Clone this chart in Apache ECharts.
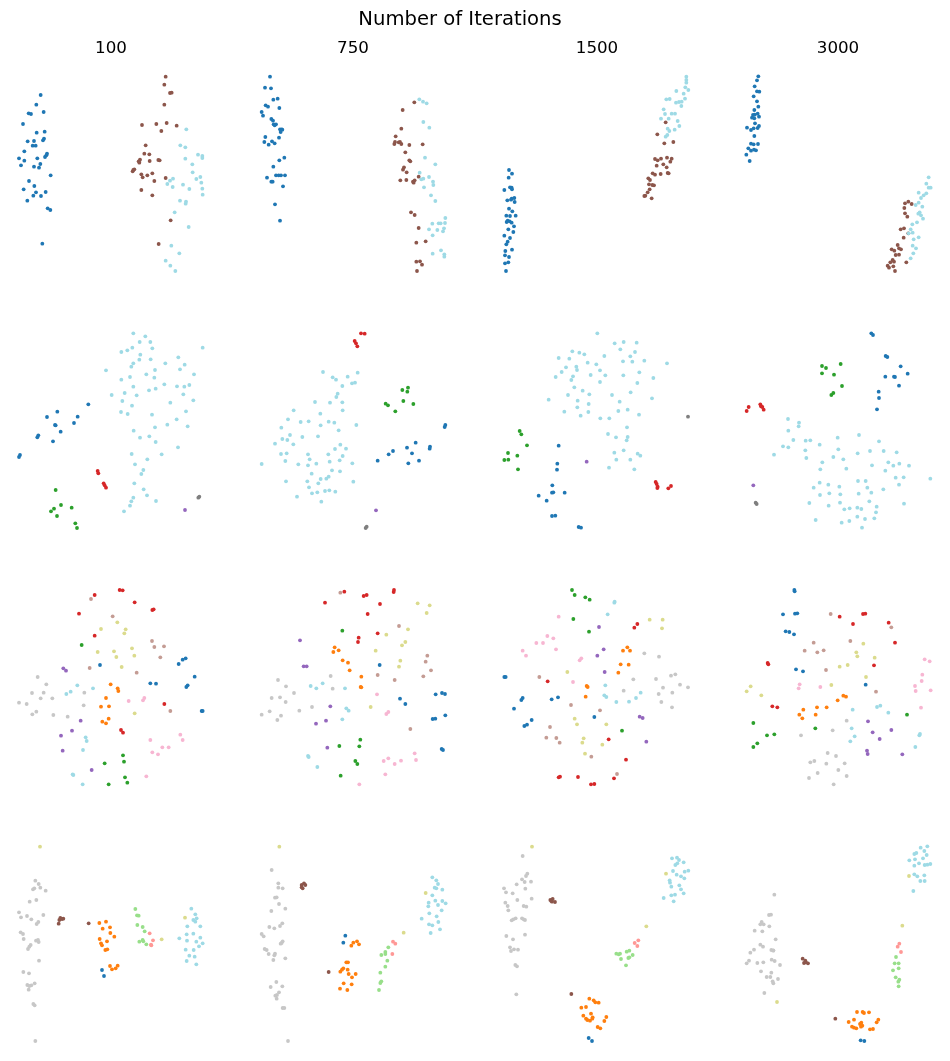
<!DOCTYPE html>
<html><head><meta charset="utf-8">
<script src="https://cdn.jsdelivr.net/npm/echarts@6/dist/echarts.min.js"></script>
<style>html,body{margin:0;padding:0;background:#fff}#c{width:950px;height:1061px}</style>
</head><body><div id="c"></div>
<script>
// Values are embedding coordinates (units: 1/3 px of each row's crop)
const colTitles = ['100','750','1500','3000'];
const mainTitle = 'Number of Iterations';

// ---------- Row 1 ----------
const r1c1_blue=[[122,285],[109,314],[131,336],[86,340],[93,342],[69,372],[110,398],[134,395],[83,424],[102,423],[132,416],[129,421],[98,437],[107,437],[73,454],[141,461],[139,466],[135,471],[57,475],[73,482],[112,475],[63,496],[102,500],[117,503],[121,492],[152,526],[87,543],[103,558],[71,568],[108,577],[137,576],[100,587],[123,588],[82,602],[143,625],[151,630],[127,731]];
const r1c1_brown=[[497,230],[493,254],[510,279],[515,278],[493,314],[426,375],[469,372],[500,369],[530,377],[484,393],[437,436],[433,461],[448,463],[420,479],[416,484],[418,488],[449,483],[475,480],[479,481],[400,510],[398,514],[403,508],[424,523],[428,532],[442,526],[457,520],[463,543],[497,534],[424,570],[457,586],[512,661],[476,732]];
const r1c1_cyan=[[559,388],[541,436],[556,442],[594,464],[607,468],[607,474],[556,476],[577,493],[578,517],[601,531],[589,537],[604,548],[519,536],[510,542],[502,552],[518,561],[549,554],[568,567],[607,566],[608,584],[540,602],[558,605],[557,611],[524,637],[566,681],[514,737],[538,760],[497,782],[511,797],[526,813]];
const r1c2_blue=[[810,230],[795,263],[813,265],[820,299],[833,296],[797,316],[804,320],[838,324],[785,336],[789,347],[814,357],[819,362],[821,373],[828,373],[824,376],[840,388],[845,388],[847,389],[842,396],[837,413],[796,411],[793,426],[806,434],[816,424],[824,430],[853,473],[838,481],[820,500],[828,526],[836,526],[843,526],[855,526],[801,533],[814,545],[818,545],[849,559],[825,613],[840,662]];
const r1c2_brown=[[1208,330],[1243,307],[1204,386],[1187,409],[1185,426],[1183,432],[1196,427],[1200,426],[1204,432],[1228,435],[1268,433],[1216,457],[1228,481],[1231,484],[1212,502],[1209,509],[1220,517],[1256,530],[1201,541],[1219,540],[1239,545],[1241,548],[1244,541],[1233,637],[1244,645],[1256,684],[1277,724],[1249,728],[1249,785],[1260,784],[1266,794],[1251,813]];
const r1c2_cyan=[[1258,298],[1269,305],[1280,310],[1270,366],[1288,383],[1275,473],[1306,493],[1259,518],[1287,531],[1264,538],[1270,536],[1299,545],[1300,555],[1272,562],[1293,586],[1306,603],[1336,654],[1297,671],[1316,670],[1322,670],[1335,669],[1287,688],[1312,690],[1332,685],[1329,694],[1298,706],[1323,751],[1298,761],[1333,763],[1333,770]];
const r1c3_blue=[[102,510],[111,521],[101,533],[105,562],[110,563],[111,568],[88,570],[118,594],[110,596],[108,599],[97,601],[119,606],[102,626],[112,634],[94,647],[105,648],[122,647],[98,662],[104,664],[95,666],[110,668],[117,679],[100,688],[115,696],[88,707],[105,714],[98,725],[94,733],[91,753],[111,749],[90,766],[102,771],[90,790],[100,787],[93,813]];
const r1c3_brown=[[572,367],[547,403],[568,430],[595,426],[540,477],[548,481],[558,476],[545,497],[565,493],[576,473],[590,476],[586,485],[575,502],[533,520],[540,524],[557,522],[578,519],[581,520],[520,535],[525,540],[532,555],[522,553],[537,556],[524,568],[518,577],[508,588],[511,587],[530,595]];
const r1c3_cyan=[[634,230],[634,240],[634,248],[631,262],[640,270],[604,273],[626,281],[574,298],[584,297],[630,296],[603,308],[612,306],[620,305],[619,318],[566,328],[570,342],[590,341],[600,341],[558,356],[581,356],[608,363],[613,378],[578,386],[583,393],[599,389],[572,410],[577,405]];
const r1c4_blue=[[850,229],[846,241],[839,259],[846,274],[853,275],[836,289],[846,304],[850,320],[838,330],[834,345],[839,344],[848,341],[831,353],[838,355],[852,350],[840,370],[816,383],[828,390],[836,385],[848,384],[852,378],[838,408],[828,431],[836,433],[849,432],[820,445],[828,452],[837,449],[843,451],[814,464],[824,483]];
const r1c4_brown=[[1290,610],[1300,605],[1310,612],[1288,624],[1290,640],[1297,650],[1277,688],[1287,685],[1300,700],[1286,713],[1250,748],[1258,752],[1268,735],[1272,745],[1278,748],[1262,765],[1272,764],[1253,780],[1246,787],[1257,785],[1238,797],[1242,803],[1255,799],[1260,813],[1294,787]];
const r1c4_cyan=[[1361,532],[1354,551],[1361,563],[1367,563],[1331,578],[1346,586],[1354,580],[1338,594],[1331,608],[1322,615],[1342,620],[1334,637],[1330,641],[1338,646],[1344,656],[1326,667],[1312,673],[1307,688],[1313,698],[1301,700],[1331,712],[1316,718],[1313,737],[1323,745],[1315,760],[1307,775]];

// ---------- Row 2 ----------
const r2c1_cyan=[[400,70],[436,79],[419,96],[451,96],[457,115],[364,126],[382,121],[397,113],[421,134],[418,149],[452,148],[400,160],[394,170],[496,160],[535,142],[554,164],[540,178],[318,181],[465,180],[439,193],[582,193],[364,209],[390,201],[463,203],[493,223],[531,229],[553,230],[568,225],[400,230],[447,241],[467,236],[335,255],[374,249],[410,256],[550,253],[367,273],[396,287],[511,278],[580,271],[363,306],[383,312],[456,314],[558,304],[530,328],[502,344],[465,352],[563,349],[401,362],[420,383],[448,379],[467,396],[534,412],[395,432],[485,433],[442,448],[405,463],[430,480],[424,492],[403,520],[431,538],[441,556],[400,563],[394,574],[468,573],[390,587],[372,604],[608,113]];
const r2c1_blue=[[265,283],[172,305],[141,321],[233,320],[165,345],[167,346],[222,339],[182,365],[115,376],[112,382],[159,394],[60,435],[57,441]];
const r2c1_green=[[167,540],[183,585],[162,596],[153,604],[215,593],[171,618],[226,640],[231,654]];
const r2c1_red=[[293,483],[295,490],[311,520],[314,526],[318,533]];
const r2c1_gray=[[595,563],[598,560]];
const r2c1_purple=[[555,600]];
const r2c2_cyan=[[969,186],[998,202],[1008,209],[1043,200],[1073,188],[1056,220],[1065,218],[1027,228],[1013,251],[1009,261],[945,276],[990,278],[1027,277],[881,301],[961,311],[1028,301],[864,328],[902,336],[926,334],[962,346],[986,335],[1003,338],[844,353],[1069,345],[1016,361],[870,375],[847,387],[862,390],[907,381],[954,379],[825,401],[880,403],[1021,404],[1005,417],[1038,416],[843,432],[860,430],[924,433],[985,433],[1028,438],[785,462],[856,453],[929,448],[895,463],[924,466],[949,461],[989,455],[1019,451],[1057,460],[996,481],[1020,484],[935,491],[986,500],[962,507],[979,506],[858,514],[922,514],[955,520],[1060,515],[927,532],[975,543],[988,541],[1006,545],[952,547],[936,550],[891,560],[964,575]];
const r2c2_red=[[1083,70],[1094,71],[1064,93],[1068,100],[1072,109]];
const r2c2_green=[[1207,240],[1224,233],[1222,245],[1210,273],[1240,282],[1157,281],[1164,286],[1186,304]];
const r2c2_blue=[[1336,345],[1334,351],[1290,410],[1289,416],[1247,398],[1221,413],[1179,423],[1166,433],[1236,430],[1133,452],[1225,460],[1257,452]];
const r2c2_purple=[[1128,601]];
const r2c2_gray=[[1100,650],[1097,654]];
const r2c3_cyan=[[367,70],[419,100],[446,96],[485,98],[436,118],[480,126],[292,124],[313,128],[328,133],[251,144],[283,146],[388,138],[466,139],[444,154],[472,155],[508,152],[338,158],[364,163],[273,172],[304,170],[306,180],[375,181],[260,186],[242,201],[294,199],[289,210],[347,195],[391,196],[445,196],[493,187],[535,204],[375,216],[487,219],[298,232],[323,242],[279,255],[343,253],[411,255],[467,247],[221,269],[308,272],[434,275],[531,265],[576,160],[307,292],[341,282],[268,305],[340,306],[430,303],[458,299],[317,317],[376,325],[403,325],[492,314],[456,352],[399,372],[423,382],[458,381],[455,391],[418,428],[446,421],[488,431],[496,437],[424,449],[466,449],[402,473],[478,478]];
const r2c3_green=[[134,363],[139,373],[156,406],[99,429],[127,437],[88,450],[100,449],[129,478]];
const r2c3_blue=[[251,407],[247,461],[246,479],[232,526],[231,548],[235,547],[269,548],[191,557],[215,572],[231,618],[241,617],[311,651],[318,653]];
const r2c3_purple=[[335,455]];
const r2c3_gray=[[639,320]];
const r2c3_red=[[542,516],[545,522],[548,530],[547,534],[580,535],[588,528]];
const r2c4_blue=[[1189,70],[1194,75],[1232,138],[1237,141],[1277,169],[1298,191],[1231,200],[1257,200],[1260,201],[1272,227],[1211,245],[1212,264],[1206,298]];
const r2c4_green=[[1041,168],[1053,174],[1097,162],[1041,190],[1077,194],[1101,228],[1075,249],[1069,255]];
const r2c4_red=[[821,291],[815,303],[856,283],[858,289],[862,291],[866,299]];
const r2c4_purple=[[835,526]];
const r2c4_gray=[[842,578],[845,582]];
const r2c4_cyan=[[939,327],[972,338],[971,349],[940,362],[955,390],[992,392],[1006,391],[924,409],[940,412],[897,434],[991,421],[994,444],[1034,404],[1088,383],[1152,375],[1212,394],[1090,418],[1075,441],[1105,448],[1042,457],[1036,478],[1114,476],[1148,430],[1185,423],[1226,423],[1265,427],[1191,466],[1240,457],[1255,467],[1273,461],[1302,467],[1231,482],[1262,503],[1286,502],[1366,506],[1034,518],[1060,524],[1093,530],[1016,533],[1149,513],[1172,513],[1177,533],[1272,524],[1225,538],[1035,555],[1063,550],[1096,553],[1151,551],[1189,548],[1003,579],[1061,587],[1095,578],[1183,574],[1108,598],[1124,595],[1147,593],[1159,597],[1205,590],[1203,607],[1287,581],[1022,630],[1100,638],[1123,633],[1147,620],[1170,627],[1198,625],[1161,653]];

// ---------- Row 3 ----------
const r3c1_red=[[284,75],[359,60],[368,61],[404,97],[237,131],[457,120],[461,118],[284,197],[493,402],[363,480],[369,488]];
const r3c1_tan=[[273,87],[338,139],[456,213],[463,231],[492,229],[481,262],[269,294],[410,308],[511,423]];
const r3c1_olive=[[352,157],[303,177],[377,178],[373,190],[293,246],[342,244],[396,235],[349,261],[403,257],[365,291],[404,430]];
const r3c1_green=[[245,225],[369,556],[372,575],[314,580],[375,622],[382,638],[326,643]];
const r3c1_blue=[[300,285],[536,282],[548,269],[557,265],[584,320],[451,340],[468,341],[563,346],[559,351],[605,423],[608,423]];
const r3c1_purple=[[190,295],[198,302],[242,452],[216,482],[183,497],[188,542],[275,600]];
const r3c1_gray=[[113,321],[139,343],[96,369],[131,368],[122,385],[157,385],[57,398],[80,402],[109,425],[97,433],[160,435],[203,440],[253,368],[251,406]];
const r3c1_cyan=[[232,346],[212,365],[199,372],[279,355],[257,502],[260,513],[249,540],[218,613],[220,615],[248,643]];
const r3c1_orange=[[332,343],[353,355],[355,363],[318,384],[303,410],[327,409],[326,446],[307,455],[318,460]];
const r3c1_pink=[[386,393],[429,391],[433,384],[451,510],[541,494],[548,510],[457,547],[474,553],[487,532],[506,532],[439,619]];
const r3c2_red=[[1033,65],[1091,78],[1100,75],[1182,60],[1181,66],[975,98],[1140,102],[1103,132],[1133,190],[1076,203],[1074,216]];
const r3c2_tan=[[1021,68],[1197,168],[1282,257],[1277,275],[1293,301],[1270,319],[1133,315],[1184,330],[1231,477]];
const r3c2_olive=[[1253,100],[1289,106],[1280,129],[1224,178],[1159,194],[1216,216],[1206,226],[1127,242],[1201,272],[1197,290],[1112,411]];
const r3c2_green=[[1027,182],[1081,509],[1078,529],[1018,528],[1066,573],[1072,582],[1022,617]];
const r3c2_purple=[[900,211],[911,289],[920,289],[991,409],[948,461],[978,452],[982,533]];
const r3c2_orange=[[1004,232],[1000,246],[1016,241],[1028,271],[1044,278],[1049,301],[1084,320],[1082,351],[1084,352]];
const r3c2_blue=[[1139,285],[1200,386],[1216,402],[1307,373],[1326,369],[1335,372],[1336,436],[1298,447],[1306,446],[1325,537],[1329,540]];
const r3c2_gray=[[834,330],[858,349],[882,369],[815,384],[840,382],[857,396],[785,434],[809,424],[843,437],[832,450],[898,422],[936,411],[992,318],[998,356]];
const r3c2_cyan=[[932,348],[949,355],[968,340],[1035,355],[1039,415],[1046,422],[1027,448],[924,558],[926,561],[952,591]];
const r3c2_pink=[[1131,373],[1159,432],[1165,426],[1244,550],[1248,570],[1151,573],[1165,565],[1184,582],[1203,572],[1156,613],[1078,643]];
const r3c3_green=[[291,60],[299,75],[331,82],[344,89],[295,147],[342,185],[441,482]];
const r3c3_cyan=[[419,95],[418,98],[398,133],[391,346],[388,376],[394,381],[424,396],[462,395],[483,384],[497,368]];
const r3c3_pink=[[251,140],[217,198],[235,205],[184,219],[204,219],[143,242],[153,257],[243,238],[314,271],[319,265],[294,336]];
const r3c3_purple=[[372,171],[386,238],[367,257],[389,306],[494,440],[503,444],[514,515]];
const r3c3_red=[[478,173],[487,162],[218,334],[401,508],[453,569],[251,622],[255,620],[309,621],[348,643],[358,642],[417,625]];
const r3c3_olive=[[524,149],[563,149],[561,175],[277,306],[299,446],[306,463],[394,463],[326,505],[322,518],[382,524],[330,551]];
const r3c3_orange=[[444,242],[457,232],[465,242],[437,283],[461,284],[430,308],[335,348],[338,351],[332,380]];
const r3c3_gray=[[508,250],[552,260],[475,328],[446,362],[543,327],[588,317],[601,313],[564,353],[615,344],[639,352],[551,372],[592,368],[559,396],[591,412]];
const r3c3_blue=[[88,321],[92,321],[143,384],[139,390],[117,416],[230,388],[249,382],[170,450],[156,464],[148,468],[358,441]];
const r3c3_tan=[[193,321],[288,405],[375,421],[225,471],[214,503],[244,504],[254,518],[349,560],[426,612]];
const r3c4_blue=[[958,60],[959,64],[924,133],[960,131],[967,130],[932,184],[943,186],[957,193],[963,298],[984,304],[1172,344]];
const r3c4_tan=[[1067,132],[1016,218],[989,242],[1027,247],[1046,241],[1126,213],[1053,300],[1203,365],[1249,172]];
const r3c4_red=[[1094,140],[1134,162],[1164,132],[1171,131],[1241,158],[1260,218],[878,279],[880,283],[892,409],[907,412],[1197,286]];
const r3c4_olive=[[1165,221],[1144,247],[1147,259],[1199,263],[1094,290],[1118,285],[1173,321],[1069,345],[827,349],[815,364],[859,376]];
const r3c4_pink=[[1349,268],[1364,274],[1342,314],[1340,333],[1320,348],[1322,363],[1367,361],[1338,413],[974,343],[971,355],[1036,351]];
const r3c4_orange=[[1105,377],[1113,380],[1088,391],[985,419],[1026,412],[1055,412],[973,434],[982,445],[1022,434]];
const r3c4_cyan=[[1206,411],[1216,407],[1240,428],[1133,419],[1130,475],[1139,499],[1126,514],[1335,492],[1333,496],[1321,531]];
const r3c4_green=[[1296,434],[1021,475],[835,459],[876,496],[898,493],[847,520],[835,531]];
const r3c4_purple=[[1179,454],[1193,487],[1214,507],[1249,480],[1176,542],[1178,552],[1282,553]];
const r3c4_gray=[[978,496],[1073,481],[1115,452],[1058,549],[1083,558],[1006,577],[1018,573],[1054,581],[1109,580],[1090,600],[1028,609],[1002,624],[1115,618],[1076,643]];

// ---------- Row 4 ----------
const r4c1_olive=[[120,50],[555,263],[485,328]];
const r4c1_gray=[[106,152],[116,162],[121,173],[99,178],[103,175],[137,182],[89,215],[109,210],[57,247],[63,262],[81,258],[94,268],[130,255],[115,276],[110,282],[62,307],[69,312],[71,327],[108,332],[114,330],[116,336],[92,345],[88,350],[84,357],[117,392],[70,426],[87,430],[82,465],[88,468],[94,466],[104,460],[86,479],[100,522],[104,526],[106,633]];
const r4c1_brown=[[181,264],[186,267],[190,266],[178,270],[176,281],[266,280]];
const r4c1_orange=[[298,279],[318,275],[330,292],[308,296],[331,309],[343,320],[299,327],[321,334],[303,340],[306,346],[316,360],[322,358],[330,408],[336,418],[347,415],[353,407]];
const r4c1_blue=[[306,420],[312,438]];
const r4c1_lgreen=[[406,237],[411,256],[416,257],[412,285],[428,291],[434,304],[418,335],[428,330],[430,334],[439,343]];
const r4c1_lred=[[449,310],[459,331],[454,346],[453,344]];
const r4c1_cyan=[[574,236],[586,253],[590,265],[580,270],[586,275],[562,289],[601,289],[560,313],[580,311],[538,325],[561,332],[601,323],[589,335],[608,340],[597,349],[557,359],[581,360],[568,377],[584,380],[560,393],[589,403]];
const r4c2_olive=[[838,50],[1277,189],[1211,308]];
const r4c2_gray=[[815,120],[835,160],[848,175],[835,173],[825,203],[830,202],[837,222],[814,243],[856,236],[847,280],[808,291],[823,295],[840,288],[785,312],[791,319],[848,334],[845,339],[842,341],[794,357],[800,360],[806,372],[825,371],[823,376],[856,385],[820,390],[829,456],[812,471],[847,469],[837,487],[831,495],[826,497],[830,506],[848,534],[853,534],[864,633]];
const r4c2_brown=[[905,165],[912,160],[916,165],[905,172],[908,175],[986,426]];
const r4c2_blue=[[1036,317],[1030,338]];
const r4c2_orange=[[1071,334],[1060,338],[1077,343],[1054,347],[1039,397],[1044,397],[1030,415],[1026,419],[1021,425],[1043,419],[1046,432],[1067,432],[1056,442],[1031,460],[1055,463],[1020,476],[1042,480]];
const r4c2_lred=[[1179,335],[1186,341],[1177,372]];
const r4c2_lgreen=[[1165,352],[1156,366],[1156,372],[1144,375],[1162,392],[1156,410],[1141,428],[1144,454],[1141,459],[1137,480]];
const r4c2_cyan=[[1297,142],[1309,151],[1314,162],[1304,173],[1309,175],[1327,179],[1297,196],[1306,212],[1286,218],[1285,229],[1327,213],[1337,220],[1314,225],[1325,241],[1288,250],[1310,259],[1265,266],[1315,276],[1287,283],[1297,286],[1320,298],[1292,309]];
const r4c3_olive=[[171,50],[573,131],[514,289]];
const r4c3_gray=[[143,78],[157,131],[153,138],[141,148],[149,156],[168,155],[125,163],[151,176],[87,175],[93,187],[113,190],[127,210],[170,206],[91,218],[98,228],[100,241],[146,228],[154,230],[122,265],[115,268],[110,271],[141,265],[146,268],[150,270],[94,318],[114,328],[150,314],[105,352],[108,363],[117,358],[129,359],[121,405],[126,409],[124,493]];
const r4c3_brown=[[226,210],[233,207],[231,215],[240,216],[229,213],[289,492]];
const r4c3_cyan=[[591,85],[606,83],[612,90],[626,97],[601,105],[607,100],[594,123],[605,134],[618,139],[628,145],[629,125],[640,122],[584,151],[585,158],[613,166],[589,170],[618,178],[626,190],[600,194],[589,196],[566,204],[596,214]];
const r4c3_lred=[[490,331],[479,339],[487,348]];
const r4c3_lgreen=[[424,371],[435,371],[431,373],[455,365],[463,362],[473,375],[460,384],[438,387],[453,406],[463,382]];
const r4c3_orange=[[343,506],[356,511],[361,517],[371,518],[319,533],[333,531],[348,551],[325,557],[333,566],[337,570],[345,572],[352,566],[353,562],[394,561],[388,573],[368,591],[376,595]];
const r4c3_blue=[[341,624],[351,633]];
const r4c4_cyan=[[1337,53],[1357,49],[1348,63],[1318,72],[1324,69],[1355,75],[1303,91],[1320,88],[1344,85],[1332,100],[1318,107],[1349,105],[1357,104],[1366,102],[1318,133],[1327,139],[1348,136],[1336,153],[1349,153],[1315,183]];
const r4c4_olive=[[1302,138],[1282,287],[906,516]];
const r4c4_gray=[[898,194],[882,255],[888,254],[860,276],[856,283],[866,283],[883,289],[839,302],[862,304],[902,328],[856,344],[864,350],[837,359],[826,368],[889,360],[895,361],[895,362],[822,392],[815,400],[847,399],[865,397],[890,389],[899,393],[915,405],[858,424],[875,441],[889,428],[886,441],[909,447],[893,454],[895,460],[868,489]];
const r4c4_brown=[[983,386],[991,392],[987,399],[993,397],[999,400],[1081,566]];
const r4c4_lred=[[1273,341],[1268,350],[1278,366]];
const r4c4_lgreen=[[1263,381],[1259,400],[1271,400],[1271,415],[1254,421],[1262,442],[1273,449],[1270,455],[1271,469]];
const r4c4_orange=[[1146,546],[1163,546],[1167,549],[1182,547],[1137,569],[1121,576],[1159,578],[1155,582],[1162,587],[1210,569],[1205,577],[1131,590],[1137,593],[1144,595],[1185,598],[1194,597],[1158,590]];
const r4c4_blue=[[1157,631],[1168,633]];

const COLORS = {blue:'#1f77b4',orange:'#ff7f0e',green:'#2ca02c',red:'#d62728',purple:'#9467bd',brown:'#8c564b',gray:'#7f7f7f',lgray:'#c7c7c7',tan:'#c49c94',pink:'#f7b6d2',olive:'#dbdb8d',cyan:'#9edae5',lgreen:'#98df8a',lred:'#ff9896'};

// [row, col, colorKey, data]
const layers = [
 [0,0,'blue',r1c1_blue],[0,0,'brown',r1c1_brown],[0,0,'cyan',r1c1_cyan],
 [0,1,'blue',r1c2_blue],[0,1,'brown',r1c2_brown],[0,1,'cyan',r1c2_cyan],
 [0,2,'blue',r1c3_blue],[0,2,'brown',r1c3_brown],[0,2,'cyan',r1c3_cyan],
 [0,3,'blue',r1c4_blue],[0,3,'brown',r1c4_brown],[0,3,'cyan',r1c4_cyan],
 [1,0,'cyan',r2c1_cyan],[1,0,'blue',r2c1_blue],[1,0,'green',r2c1_green],[1,0,'red',r2c1_red],[1,0,'gray',r2c1_gray],[1,0,'purple',r2c1_purple],
 [1,1,'cyan',r2c2_cyan],[1,1,'blue',r2c2_blue],[1,1,'green',r2c2_green],[1,1,'red',r2c2_red],[1,1,'gray',r2c2_gray],[1,1,'purple',r2c2_purple],
 [1,2,'cyan',r2c3_cyan],[1,2,'blue',r2c3_blue],[1,2,'green',r2c3_green],[1,2,'red',r2c3_red],[1,2,'gray',r2c3_gray],[1,2,'purple',r2c3_purple],
 [1,3,'cyan',r2c4_cyan],[1,3,'blue',r2c4_blue],[1,3,'green',r2c4_green],[1,3,'red',r2c4_red],[1,3,'gray',r2c4_gray],[1,3,'purple',r2c4_purple],
 [2,0,'lgray',r3c1_gray],[2,0,'tan',r3c1_tan],[2,0,'olive',r3c1_olive],[2,0,'cyan',r3c1_cyan],[2,0,'pink',r3c1_pink],[2,0,'red',r3c1_red],[2,0,'green',r3c1_green],[2,0,'blue',r3c1_blue],[2,0,'purple',r3c1_purple],[2,0,'orange',r3c1_orange],
 [2,1,'lgray',r3c2_gray],[2,1,'tan',r3c2_tan],[2,1,'olive',r3c2_olive],[2,1,'cyan',r3c2_cyan],[2,1,'pink',r3c2_pink],[2,1,'red',r3c2_red],[2,1,'green',r3c2_green],[2,1,'blue',r3c2_blue],[2,1,'purple',r3c2_purple],[2,1,'orange',r3c2_orange],
 [2,2,'lgray',r3c3_gray],[2,2,'tan',r3c3_tan],[2,2,'olive',r3c3_olive],[2,2,'cyan',r3c3_cyan],[2,2,'pink',r3c3_pink],[2,2,'red',r3c3_red],[2,2,'green',r3c3_green],[2,2,'blue',r3c3_blue],[2,2,'purple',r3c3_purple],[2,2,'orange',r3c3_orange],
 [2,3,'lgray',r3c4_gray],[2,3,'tan',r3c4_tan],[2,3,'olive',r3c4_olive],[2,3,'cyan',r3c4_cyan],[2,3,'pink',r3c4_pink],[2,3,'red',r3c4_red],[2,3,'green',r3c4_green],[2,3,'blue',r3c4_blue],[2,3,'purple',r3c4_purple],[2,3,'orange',r3c4_orange],
 [3,0,'lgray',r4c1_gray],[3,0,'cyan',r4c1_cyan],[3,0,'olive',r4c1_olive],[3,0,'lgreen',r4c1_lgreen],[3,0,'lred',r4c1_lred],[3,0,'orange',r4c1_orange],[3,0,'brown',r4c1_brown],[3,0,'blue',r4c1_blue],
 [3,1,'lgray',r4c2_gray],[3,1,'cyan',r4c2_cyan],[3,1,'olive',r4c2_olive],[3,1,'lgreen',r4c2_lgreen],[3,1,'lred',r4c2_lred],[3,1,'orange',r4c2_orange],[3,1,'brown',r4c2_brown],[3,1,'blue',r4c2_blue],
 [3,2,'lgray',r4c3_gray],[3,2,'cyan',r4c3_cyan],[3,2,'olive',r4c3_olive],[3,2,'lgreen',r4c3_lgreen],[3,2,'lred',r4c3_lred],[3,2,'orange',r4c3_orange],[3,2,'brown',r4c3_brown],[3,2,'blue',r4c3_blue],
 [3,3,'lgray',r4c4_gray],[3,3,'cyan',r4c4_cyan],[3,3,'olive',r4c4_olive],[3,3,'lgreen',r4c4_lgreen],[3,3,'lred',r4c4_lred],[3,3,'orange',r4c4_orange],[3,3,'brown',r4c4_brown],[3,3,'blue',r4c4_blue]
];

// layout
const colLeft=[8,250,493,735], colW=210;
const rowTop=[62,318,575,831], rowH=225;
const colOrigin=[0,0,475,475];       // crop origin of value units (page px)
const rowOrigin=[0,310,570,830];
const UNIT=3;                          // value units per page px
const colCenter=[111,353,597,838];

const grids=[], xAxes=[], yAxes=[];
for(let r=0;r<4;r++)for(let c=0;c<4;c++){
  grids.push({left:colLeft[c],top:rowTop[r],width:colW,height:rowH});
  const gi=r*4+c;
  xAxes.push({gridIndex:gi,type:'value',show:false,min:(colLeft[c]-colOrigin[c])*UNIT,max:(colLeft[c]+colW-colOrigin[c])*UNIT,splitLine:{show:false}});
  yAxes.push({gridIndex:gi,type:'value',show:false,inverse:true,min:(rowTop[r]-rowOrigin[r])*UNIT,max:(rowTop[r]+rowH-rowOrigin[r])*UNIT,splitLine:{show:false}});
}
const series=layers.map(([r,c,k,d])=>({type:'scatter',xAxisIndex:r*4+c,yAxisIndex:r*4+c,data:d,symbol:'circle',symbolSize:3.8,
  itemStyle:{color:COLORS[k],opacity:1},silent:true,animation:false}));

const titles=[{text:mainTitle,left:460,top:9.5,textAlign:'center',padding:0,textStyle:{fontFamily:'DejaVu Sans',fontSize:19.6,fontWeight:'normal',color:'#000'}}];
colTitles.forEach((t,i)=>titles.push({text:t,left:colCenter[i],top:40.5,textAlign:'center',padding:0,textStyle:{fontFamily:'DejaVu Sans',fontSize:16.7,fontWeight:'normal',color:'#000'}}));

const chart=echarts.init(document.getElementById('c'),null,{renderer:'canvas'});
chart.setOption({backgroundColor:'#fff',animation:false,title:titles,grid:grids,xAxis:xAxes,yAxis:yAxes,series:series});
</script></body></html>
